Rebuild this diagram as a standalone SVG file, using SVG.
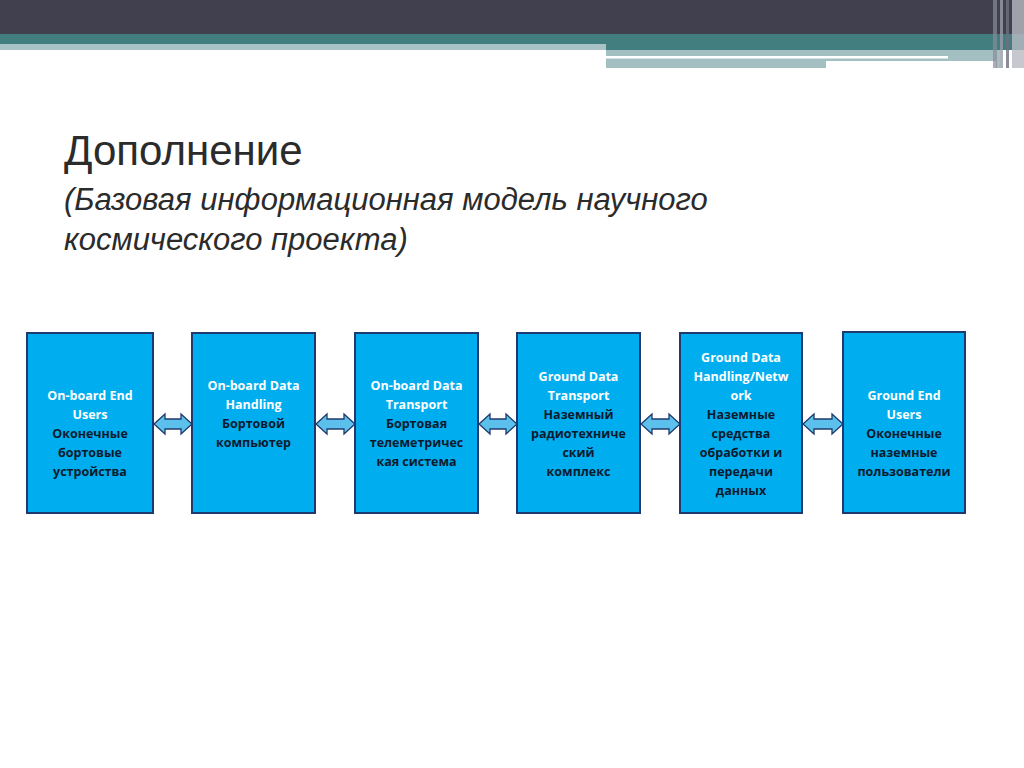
<svg xmlns="http://www.w3.org/2000/svg" width="1024" height="768" viewBox="0 0 1024 768">
<style>
.box{fill:#00AEEF;stroke:#1F3A6E;stroke-width:2}
.t{font-family:"Open Sans","Liberation Sans",sans-serif;font-weight:bold;font-size:12.5px;text-anchor:middle}
.e{fill:#FFFFFF}.r{fill:#0B1A2E}
.arr{fill:#5BC0EB;stroke:#1F3A6E;stroke-width:1.3}
</style>
<rect width="1024" height="768" fill="#FFFFFF"/>
<g id="header">
<rect x="0" y="0" width="1024" height="34" fill="#40404F"/>
<rect x="0" y="34" width="1024" height="16" fill="#427E80"/>
<rect x="0" y="44" width="606" height="6" fill="#A8C2C5"/>
<rect x="606" y="50" width="394" height="18" fill="#A3BFC2"/>
<rect x="606" y="56" width="342" height="2.5" fill="#FFFFFF"/>
<rect x="826" y="61" width="170" height="8" fill="#FFFFFF"/>
<rect x="993" y="0" width="4" height="68" fill="#8A8C99" opacity="0.7"/>
<rect x="1000" y="0" width="3" height="68" fill="#9A9CA8" opacity="0.8"/>
<rect x="1006" y="0" width="3" height="68" fill="#6D7080" opacity="0.8"/>
<rect x="1012" y="0" width="12" height="68" fill="#B8BAC2" opacity="0.8"/>
</g>
<g id="title" font-family="Liberation Sans,Arial,sans-serif" fill="#2B2B2B">
<text x="64" y="165" font-size="42">Дополнение</text>
<text x="64" y="210" font-size="31" font-style="italic">(Базовая информационная модель научного</text>
<text x="64" y="250" font-size="31" font-style="italic">космического проекта)</text>
</g>
<g id="connectors">
<path class="arr" d="M154,424 l11,-10 v5 h16 v-5 l11,10 l-11,10 v-5 h-16 v5 z"/>
<path class="arr" d="M316,424 l11,-10 v5 h17 v-5 l11,10 l-11,10 v-5 h-17 v5 z"/>
<path class="arr" d="M479,424 l11,-10 v5 h16 v-5 l11,10 l-11,10 v-5 h-16 v5 z"/>
<path class="arr" d="M641,424 l11,-10 v5 h17 v-5 l11,10 l-11,10 v-5 h-17 v5 z"/>
<path class="arr" d="M803,424 l11,-10 v5 h18 v-5 l11,10 l-11,10 v-5 h-18 v5 z"/>
</g>
<g id="n1"><rect class="box" x="27" y="333" width="126" height="180"/>
<text class="t e" x="90" y="400">On-board End</text><text class="t e" x="90" y="419">Users</text>
<text class="t r" x="90" y="438">Оконечные</text><text class="t r" x="90" y="457">бортовые</text><text class="t r" x="90" y="476">устройства</text></g>
<g id="n2"><rect class="box" x="192" y="333" width="123" height="180"/>
<text class="t e" x="253.5" y="390">On-board Data</text><text class="t e" x="253.5" y="409">Handling</text>
<text class="t r" x="253.5" y="428">Бортовой</text><text class="t r" x="253.5" y="447">компьютер</text></g>
<g id="n3"><rect class="box" x="355" y="333" width="123" height="180"/>
<text class="t e" x="416.5" y="390">On-board Data</text><text class="t e" x="416.5" y="409">Transport</text>
<text class="t r" x="416.5" y="428">Бортовая</text><text class="t r" x="416.5" y="447">телеметричес</text><text class="t r" x="416.5" y="466">кая система</text></g>
<g id="n4"><rect class="box" x="517" y="333" width="123" height="180"/>
<text class="t e" x="578.5" y="381">Ground Data</text><text class="t e" x="578.5" y="400">Transport</text>
<text class="t r" x="578.5" y="419">Наземный</text><text class="t r" x="578.5" y="438">радиотехниче</text><text class="t r" x="578.5" y="457">ский</text><text class="t r" x="578.5" y="476">комплекс</text></g>
<g id="n5"><rect class="box" x="680" y="333" width="122" height="180"/>
<text class="t e" x="741" y="362">Ground Data</text><text class="t e" x="741" y="381">Handling/Netw</text><text class="t e" x="741" y="400">ork</text>
<text class="t r" x="741" y="419">Наземные</text><text class="t r" x="741" y="438">средства</text><text class="t r" x="741" y="457">обработки и</text><text class="t r" x="741" y="476">передачи</text><text class="t r" x="741" y="495">данных</text></g>
<g id="n6"><rect class="box" x="843" y="332" width="122" height="181"/>
<text class="t e" x="904" y="400">Ground  End</text><text class="t e" x="904" y="419">Users</text>
<text class="t r" x="904" y="438">Оконечные</text><text class="t r" x="904" y="457">наземные</text><text class="t r" x="904" y="476">пользователи</text></g>
</svg>
